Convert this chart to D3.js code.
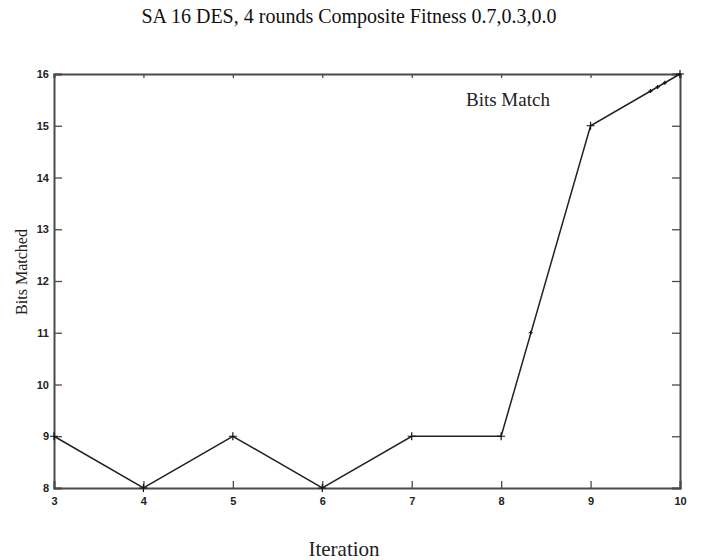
<!DOCTYPE html>
<html>
<head>
<meta charset="utf-8">
<script src="https://cdn.jsdelivr.net/npm/d3@7"></script>
<style>
  html, body { margin: 0; padding: 0; background: #fff; }
  svg { display: block; }
</style>
</head>
<body>
<script>
// Bits matched per iteration (simulated annealing run)
const iterations = [3, 4, 5, 6, 7, 8, 9, 10];
const bitsMatched = [9, 8, 9, 8, 9, 9, 15, 16];
// intermediate samples logged between iterations
const subIterations = [8.33, 9.67, 9.75, 9.83];
const subBits = [11, 15.67, 15.75, 15.83];

const xTicks = [3, 4, 5, 6, 7, 8, 9, 10];
const yTicks = [8, 9, 10, 11, 12, 13, 14, 15, 16];

const W = 701, H = 560;
const margin = { left: 54, right: 21, top: 74, bottom: 72 };

const svg = d3.select("body").append("svg")
  .attr("width", W).attr("height", H);

const x = d3.scaleLinear().domain([3, 10]).range([margin.left, W - margin.right]);
const y = d3.scaleLinear().domain([8, 16]).range([H - margin.bottom, margin.top]);

const axisColor = "#4a4a4a";
const tickFont = "'Liberation Sans', Arial, sans-serif";
const serif = "'Liberation Serif', 'Times New Roman', serif";

// Bottom axis: ticks point inward
const gB = svg.append("g").attr("transform", `translate(0,${y(8)})`)
  .call(d3.axisBottom(x).tickValues(xTicks).tickSize(-7).tickPadding(9).tickFormat(d3.format("d")));
// Top axis: short inward ticks, no labels
const gT = svg.append("g").attr("transform", `translate(0,${y(16)})`)
  .call(d3.axisTop(x).tickValues(xTicks).tickSize(-4).tickFormat(""));
// Left axis
const gL = svg.append("g").attr("transform", `translate(${x(3)},0)`)
  .call(d3.axisLeft(y).tickValues(yTicks).tickSize(-8).tickPadding(5).tickFormat(d3.format("d")));
// Right axis
const gR = svg.append("g").attr("transform", `translate(${x(10)},0)`)
  .call(d3.axisRight(y).tickValues(yTicks).tickSize(-8).tickFormat(""));

[gB, gT, gL, gR].forEach(g => {
  g.select(".domain").attr("stroke", axisColor).attr("stroke-width", 2);
  g.selectAll(".tick line").attr("stroke", axisColor).attr("stroke-width", 1.3);
  g.selectAll(".tick text")
    .attr("fill", "#222")
    .style("font-family", tickFont)
    .style("font-size", "11px")
    .style("font-weight", "bold");
});

// Data line
const line = d3.line().x(d => x(d[0])).y(d => y(d[1]));
const pts = iterations.map((d, i) => [d, bitsMatched[i]]);
svg.append("path")
  .datum(pts)
  .attr("d", line)
  .attr("fill", "none")
  .attr("stroke", "#222")
  .attr("stroke-width", 1.5);

// "+" markers at each iteration
svg.selectAll("path.mk").data(pts).enter().append("path")
  .attr("class", "mk")
  .attr("transform", d => `translate(${x(d[0])},${y(d[1])})`)
  .attr("d", "M-4,0H4M0,-4V4")
  .attr("stroke", "#111")
  .attr("stroke-width", 1.2)
  .attr("fill", "none");

// small marks for intermediate samples
const subPts = subIterations.map((d, i) => [d, subBits[i]]);
svg.selectAll("path.sub").data(subPts).enter().append("path")
  .attr("class", "sub")
  .attr("transform", d => `translate(${x(d[0])},${y(d[1])})`)
  .attr("d", "M-2,0H2M0,-2V2")
  .attr("stroke", "#111")
  .attr("stroke-width", 1.2)
  .attr("fill", "none");

// Title
svg.append("text")
  .attr("x", 349).attr("y", 23)
  .attr("text-anchor", "middle")
  .style("font-family", serif)
  .style("font-size", "20px")
  .attr("fill", "#111")
  .text("SA 16 DES, 4 rounds Composite Fitness 0.7,0.3,0.0");

// Legend label
svg.append("text")
  .attr("x", 466).attr("y", 106)
  .style("font-family", serif)
  .style("font-size", "19px")
  .attr("fill", "#222")
  .text("Bits Match");

// Axis titles
svg.append("text")
  .attr("x", 344).attr("y", 556)
  .attr("text-anchor", "middle")
  .style("font-family", serif)
  .style("font-size", "21px")
  .attr("fill", "#222")
  .text("Iteration");

svg.append("text")
  .attr("transform", "translate(27,272) rotate(-90)")
  .attr("text-anchor", "middle")
  .style("font-family", serif)
  .style("font-size", "16px")
  .attr("fill", "#222")
  .text("Bits Matched");
</script>
</body>
</html>
